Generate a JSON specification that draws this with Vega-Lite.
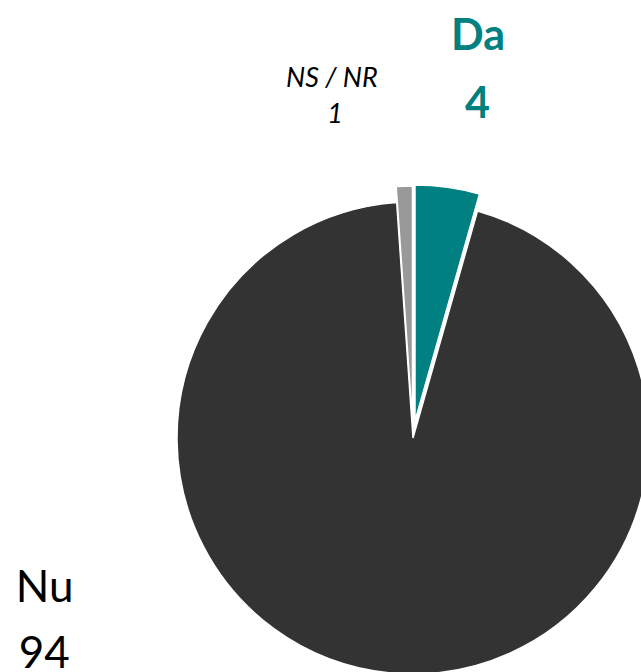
{
  "$schema": "https://vega.github.io/schema/vega-lite/v6.json",
  "autosize": "none",
  "width": 456,
  "height": 468,
  "padding": {"left": 185, "top": 204, "right": 0, "bottom": 0},
  "background": "white",
  "view": {"stroke": null},
  "data": {
    "values": [
      {"cat": "Da", "value": 4.4},
      {"cat": "Nu", "value": 94.4},
      {"cat": "NS / NR", "value": 1.1}
    ]
  },
  "transform": [
    {"stack": "value", "groupby": [], "sort": [{"field": "value", "order": "ascending"}], "as": ["v0", "v1"]}
  ],
  "layer": [
    {
      "transform": [{"filter": "datum.cat === 'Nu'"}],
      "mark": {"type": "arc", "radius": 236, "color": "#333333", "stroke": "white", "strokeWidth": 1.5},
      "encoding": {
        "theta": {"field": "v0", "type": "quantitative", "scale": {"domain": [0, 99.9], "range": [-0.069184, 6.214001]}},
        "theta2": {"field": "v1"}
      }
    },
    {
      "transform": [{"filter": "datum.cat === 'Da'"}],
      "mark": {"type": "arc", "radius": 236, "color": "#008080", "stroke": "white", "strokeWidth": 1.5, "xOffset": 2, "yOffset": -17},
      "encoding": {
        "theta": {"field": "v0", "type": "quantitative"},
        "theta2": {"field": "v1"}
      }
    },
    {
      "transform": [{"filter": "datum.cat === 'NS / NR'"}],
      "mark": {"type": "arc", "radius": 236, "color": "#999999", "stroke": "white", "strokeWidth": 1.5, "xOffset": -0.5, "yOffset": -16},
      "encoding": {
        "theta": {"field": "v0", "type": "quantitative"},
        "theta2": {"field": "v1"}
      }
    },
    {
      "mark": {"type": "text", "radius": 391.7, "dx": 11, "font": "Lato", "fontSize": 43, "fontWeight": "bold", "color": "#008080", "align": "center", "baseline": "alphabetic"},
      "encoding": {
        "theta": {"field": "value", "type": "quantitative", "stack": true},
        "order": {"field": "value", "sort": "ascending"},
        "text": {"field": "cat"},
        "opacity": {"condition": {"test": "datum.cat === 'Da'", "value": 1}, "value": 0}
      }
    },
    {
      "mark": {"type": "text", "radius": 322.8, "dx": 20, "font": "Lato", "fontSize": 43, "fontWeight": "bold", "color": "#008080", "align": "center", "baseline": "alphabetic"},
      "encoding": {
        "theta": {"field": "value", "type": "quantitative", "stack": true},
        "order": {"field": "value", "sort": "ascending"},
        "text": {"field": "value", "format": ".0f"},
        "opacity": {"condition": {"test": "datum.cat === 'Da'", "value": 1}, "value": 0}
      }
    },
    {
      "mark": {"type": "text", "radius": 350.9, "dx": -69, "font": "Lato", "fontSize": 27, "fontStyle": "italic", "color": "black", "align": "center", "baseline": "alphabetic"},
      "encoding": {
        "theta": {"field": "value", "type": "quantitative", "stack": true},
        "order": {"field": "value", "sort": "ascending"},
        "text": {"field": "cat"},
        "opacity": {"condition": {"test": "datum.cat === 'NS / NR'", "value": 1}, "value": 0}
      }
    },
    {
      "mark": {"type": "text", "radius": 314.9, "dx": -67, "font": "Lato", "fontSize": 27, "fontStyle": "italic", "color": "black", "align": "center", "baseline": "alphabetic"},
      "encoding": {
        "theta": {"field": "value", "type": "quantitative", "stack": true},
        "order": {"field": "value", "sort": "ascending"},
        "text": {"field": "value", "format": ".0f"},
        "opacity": {"condition": {"test": "datum.cat === 'NS / NR'", "value": 1}, "value": 0}
      }
    },
    {
      "mark": {"type": "text", "radius": 164.6, "dx": -351.4, "font": "Lato", "fontSize": 44, "color": "black", "align": "center", "baseline": "alphabetic"},
      "encoding": {
        "theta": {"field": "value", "type": "quantitative", "stack": true},
        "order": {"field": "value", "sort": "ascending"},
        "text": {"field": "cat"},
        "opacity": {"condition": {"test": "datum.cat === 'Nu'", "value": 1}, "value": 0}
      }
    },
    {
      "mark": {"type": "text", "radius": 231.5, "dx": -344.8, "font": "Lato", "fontSize": 44, "color": "black", "align": "center", "baseline": "alphabetic"},
      "encoding": {
        "theta": {"field": "value", "type": "quantitative", "stack": true},
        "order": {"field": "value", "sort": "ascending"},
        "text": {"field": "value", "format": ".0f"},
        "opacity": {"condition": {"test": "datum.cat === 'Nu'", "value": 1}, "value": 0}
      }
    }
  ]
}
